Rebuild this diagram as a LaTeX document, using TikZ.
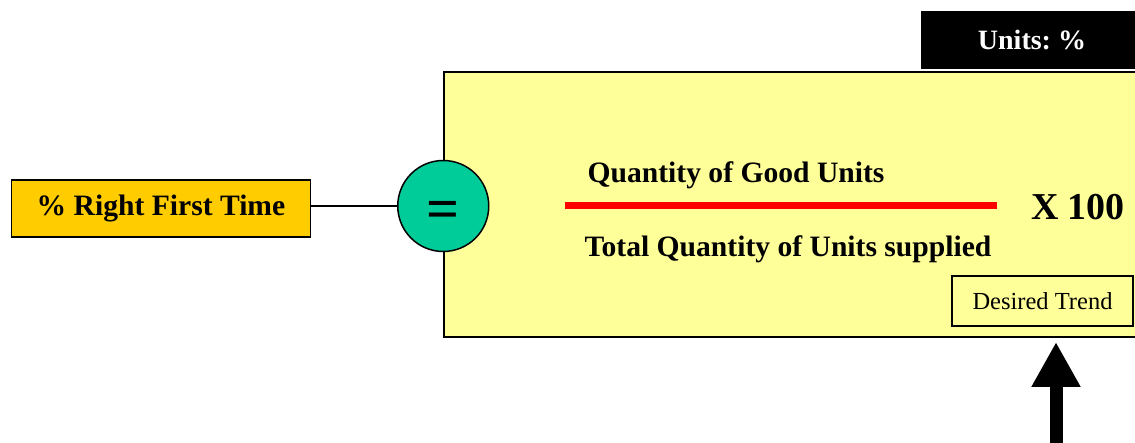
\documentclass[tikz,border=0pt]{standalone}
\usepackage{fontspec}
\setmainfont{Liberation Serif}
\usetikzlibrary{positioning, arrows.meta}

\definecolor{kpiorange}{HTML}{FFCC00}
\definecolor{kpigreen}{HTML}{00CC99}
\definecolor{kpiyellow}{HTML}{FFFF99}

\begin{document}
\begin{tikzpicture}[
  x=1pt, y=-1pt,
  kpiname/.style={draw=black, line width=1.5pt, fill=kpiorange, inner sep=0pt,
    minimum width=299pt, minimum height=57pt, font=\fontsize{29.6}{34}\selectfont\bfseries},
  panel/.style={draw=black, line width=1.5pt, fill=kpiyellow, inner sep=0pt,
    minimum width=696pt, minimum height=265pt},
  eqcircle/.style={circle, draw=black, line width=1.5pt, fill=kpigreen, inner sep=0pt,
    minimum size=91pt},
  unitsbox/.style={fill=black, text=white, inner sep=0pt, minimum width=222pt,
    minimum height=58pt, font=\fontsize{28}{32}\selectfont\bfseries},
  trendbox/.style={draw=black, line width=1.5pt, fill=kpiyellow, inner sep=0pt,
    minimum width=181pt, minimum height=50pt, font=\fontsize{24.5}{28}\selectfont},
  formula/.style={inner sep=0pt, font=\fontsize{29.6}{34}\selectfont\bfseries},
  link/.style={draw=black, line width=1.5pt},
  fracbar/.style={draw=red, line width=7pt},
  trendarrow/.style={draw=black, line width=13pt,
    -{Triangle[length=45pt, width=46pt]}}
]
\useasboundingbox (0,0) rectangle (1135,443);

% --- formula panel and the KPI name ---
\node[panel] (sheet) at (792,204.5) {};
\node[kpiname] (rft) at (161,208.5) {\% Right First Time};
\node[unitsbox] (units) at (1032,40) {Units:~\%};

% --- equals sign on the panel edge ---
\node[eqcircle] (eq) at (sheet.west |- 0,206) {};
\node[font=\fontsize{58}{64}\selectfont\bfseries, yshift=-9pt] (eqsign) at (eq.center) {=};
\draw[link] (rft.east |- eq) -- (eq);

% --- the ratio ---
\node[formula] (num) at (736,175) {Quantity of Good Units};
\node[formula] (den) at (788,249) {Total Quantity of Units supplied};
\draw[fracbar] (565,206) -- (997,206);
\node[formula, font=\fontsize{38}{42}\selectfont\bfseries] (times) at (1078,207) {X 100};

% --- desired trend ---
\node[trendbox] (trend) at (1042.5,301) {Desired Trend};
\coordinate (trendfoot) at (1056,450);
\coordinate (trendtip) at (1056,342);
\draw[trendarrow] (trendfoot) -- (trendtip);

\end{tikzpicture}
\end{document}
